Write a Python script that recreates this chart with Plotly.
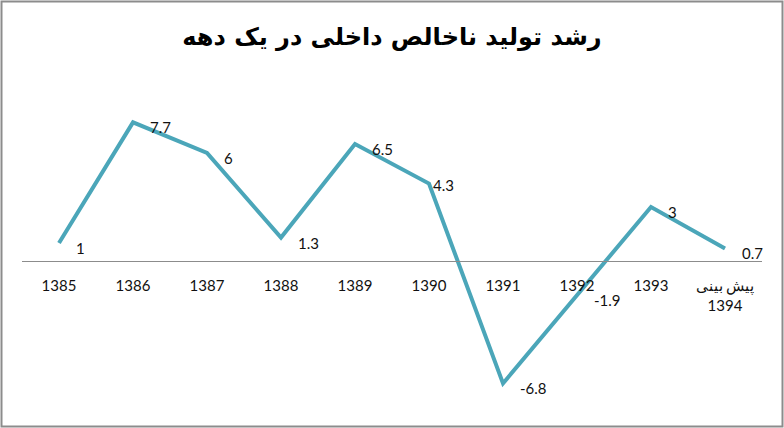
import plotly.graph_objects as go

categories = ["1385", "1386", "1387", "1388", "1389", "1390", "1391", "1392", "1393", "پیش بینی<br>1394"]
growth = [1, 7.7, 6, 1.3, 6.5, 4.3, -6.8, -1.9, 3, 0.7]
value_labels = ["1", "7.7", "6", "1.3", "6.5", "4.3", "-6.8", "-1.9", "3", "0.7"]
title_text = "رشد تولید ناخالص داخلی در یک دهه"

x_idx = list(range(len(categories)))

fig = go.Figure()
fig.add_trace(go.Scatter(
    x=x_idx, y=growth, mode="lines",
    line=dict(color="#4ba6b9", width=4),
    hoverinfo="skip", showlegend=False,
))

label_shift = {5: (2, -1)}
for i, (v, t) in enumerate(zip(growth, value_labels)):
    dx, dy = label_shift.get(i, (15, -5))
    fig.add_annotation(x=x_idx[i], y=v, text=t, showarrow=False,
                       xanchor="left", yanchor="middle", xshift=dx, yshift=dy,
                       font=dict(family="Lato, Open Sans, sans-serif", size=15, color="#111111"))

L, R, T, B = 22, 22, 95, 28
W, H = 784, 428
pw, ph = W - L - R, H - T - B
ymin, ymax = -7.72, 9.22
zero_pos = (0 - ymin) / (ymax - ymin)

fig.update_layout(
    width=W, height=H,
    margin=dict(l=L, r=R, t=T, b=B),
    paper_bgcolor="white", plot_bgcolor="white",
    title=dict(text="<b>" + title_text + "</b>", x=0.5, xanchor="center",
               y=1 - 37 / H, yanchor="middle",
               font=dict(family="DejaVu Sans, sans-serif", size=24, color="black")),
    xaxis=dict(range=[-0.5, len(categories) - 0.5], tickmode="array",
               tickvals=x_idx, ticktext=categories,
               anchor="free", position=zero_pos,
               showline=True, linecolor="#8c8c8c", linewidth=1,
               showgrid=False, zeroline=False,
               ticks="outside", ticklen=11, tickcolor="rgba(0,0,0,0)",
               tickfont=dict(family="Lato, Open Sans, sans-serif", size=15, color="#111111")),
    yaxis=dict(range=[ymin, ymax], visible=False, showgrid=False, zeroline=False),
)

fig.add_shape(type="rect", xref="paper", yref="paper",
              x0=(1.5 - L) / pw, x1=(W - 1.5 - L) / pw,
              y0=(H - B - (H - 1.5)) / ph, y1=(H - B - 1.5) / ph,
              line=dict(color="#8c8c8c", width=2), fillcolor="rgba(0,0,0,0)", layer="above")

fig.write_html("out.html", config={"displayModeBar": False},
               post_script="document.body.style.margin='0';document.body.style.overflow='hidden';")
